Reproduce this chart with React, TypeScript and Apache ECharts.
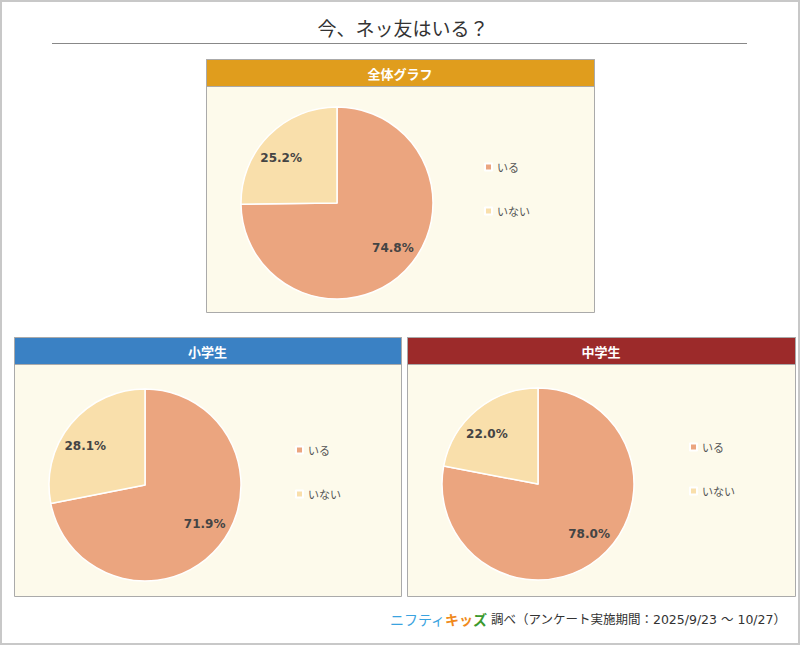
import React, { useEffect, useRef } from "react";
import * as echarts from "echarts";

const title = "今、ネッ友はいる？";
const categories = ["いる", "いない"];
const panelTitles = ["全体グラフ", "小学生", "中学生"];
const allValues = [74.8, 25.2];
const elementaryValues = [71.9, 28.1];
const juniorValues = [78.0, 22.0];
const footerSource = "調べ（アンケート実施期間：2025/9/23 ～ 10/27）";

const sliceColors = ["#EBA57F", "#F9DFAB"];
const headerColors = ["#E09D1D", "#3A81C4", "#9C2A2A"];
const JP = "'Noto Sans CJK JP', sans-serif";
const NUM = "'DejaVu Sans', 'Noto Sans CJK JP', sans-serif";

const panels = [
  { x: 206, y: 59, w: 388, h: 253, cx: 337, cy: 203, lx: 484, ly: 160, values: allValues },
  { x: 14, y: 337, w: 387, h: 259, cx: 145, cy: 485, lx: 295, ly: 443, values: elementaryValues },
  { x: 407, y: 337, w: 388, h: 259, cx: 538, cy: 484, lx: 689, ly: 440, values: juniorValues },
];

export default function App() {
  const ref = useRef<HTMLDivElement>(null);
  useEffect(() => {
    const chart = echarts.init(ref.current!, null, { renderer: "svg" });
    const graphics: any[] = [
      { type: "rect", shape: { x: 1, y: 1, width: 798, height: 643 }, style: { fill: "#fff", stroke: "#c8c8c8", lineWidth: 2 }, z: -10 },
      { type: "text", x: 403, y: 27, style: { text: title, fill: "#333", font: `19px ${JP}`, align: "center", verticalAlign: "middle" } },
      { type: "line", shape: { x1: 52, y1: 43.5, x2: 747, y2: 43.5 }, style: { stroke: "#888", lineWidth: 1 } },
    ];
    panels.forEach((p, i) => {
      graphics.push(
        { type: "rect", shape: { x: p.x + 0.5, y: p.y + 0.5, width: p.w, height: p.h }, style: { fill: "#FDFAEB", stroke: "#aaa", lineWidth: 1 }, z: -5 },
        { type: "rect", shape: { x: p.x + 0.5, y: p.y + 0.5, width: p.w, height: 27 }, style: { fill: headerColors[i], stroke: "#aaa", lineWidth: 1 }, z: -4 },
        { type: "text", x: p.x + p.w / 2, y: p.y + 14, style: { text: panelTitles[i], fill: "#fff", font: `bold 13px ${JP}`, align: "center", verticalAlign: "middle" }, z: -3 }
      );
    });
    graphics.push({
      type: "text",
      x: 786,
      y: 619,
      style: {
        text: "{a|ニフティ}{b|キッ}{c|ズ} {d|" + footerSource + "}",
        align: "right",
        verticalAlign: "middle",
        rich: {
          a: { fill: "#3AA3E0", font: `14px ${JP}` },
          b: { fill: "#F08A1C", font: `bold 14px ${JP}`, textStroke: "#A8D8F5", textStrokeWidth: 3 } as any,
          c: { fill: "#3C9A2E", font: `bold 14px ${JP}`, textStroke: "#A8D8F5", textStrokeWidth: 3 } as any,
          d: { fill: "#333", font: `12.5px ${NUM}` },
        },
      },
    });

    const series: any[] = [];
    panels.forEach((p) => {
      const data = categories.map((c, k) => ({ name: c, value: p.values[k], itemStyle: { color: sliceColors[k] } }));
      series.push({
        type: "pie",
        center: [p.cx, p.cy],
        radius: 96,
        startAngle: 90,
        clockwise: true,
        silent: true,
        label: { show: false },
        labelLine: { show: false },
        itemStyle: { borderColor: "#fff", borderWidth: 1.5 },
        data,
      });
    });
    panels.forEach((p) => {
      const data = categories.map((c, k) => ({ name: c, value: p.values[k], itemStyle: { color: "rgba(0,0,0,0)" } }));
      series.push({
        type: "pie",
        center: [p.cx, p.cy],
        radius: [0, 137],
        startAngle: 96,
        clockwise: true,
        silent: true,
        z: 5,
        emphasis: { disabled: true },
        label: {
          show: true,
          position: "inside",
          formatter: (prm: any) => Number(prm.value).toFixed(1) + "%",
          color: "#444",
          fontWeight: "bold",
          fontSize: 12,
          fontFamily: NUM,
        },
        labelLine: { show: false },
        data,
      });
    });

    const legends = panels.map((p) => ({
      orient: "vertical",
      left: p.lx,
      top: p.ly,
      padding: 0,
      icon: "rect",
      itemWidth: 7,
      itemHeight: 7,
      itemGap: 30,
      selectedMode: false,
      data: categories,
      textStyle: { color: "#555", fontSize: 11, fontFamily: JP, lineHeight: 14 },
    }));

    chart.setOption({
      animation: false,
      backgroundColor: "#fff",
      graphic: graphics,
      legend: legends,
      series,
    });
    return () => chart.dispose();
  }, []);
  return <div ref={ref} style={{ position: "absolute", left: 0, top: 0, width: 800, height: 645 }} />;
}
